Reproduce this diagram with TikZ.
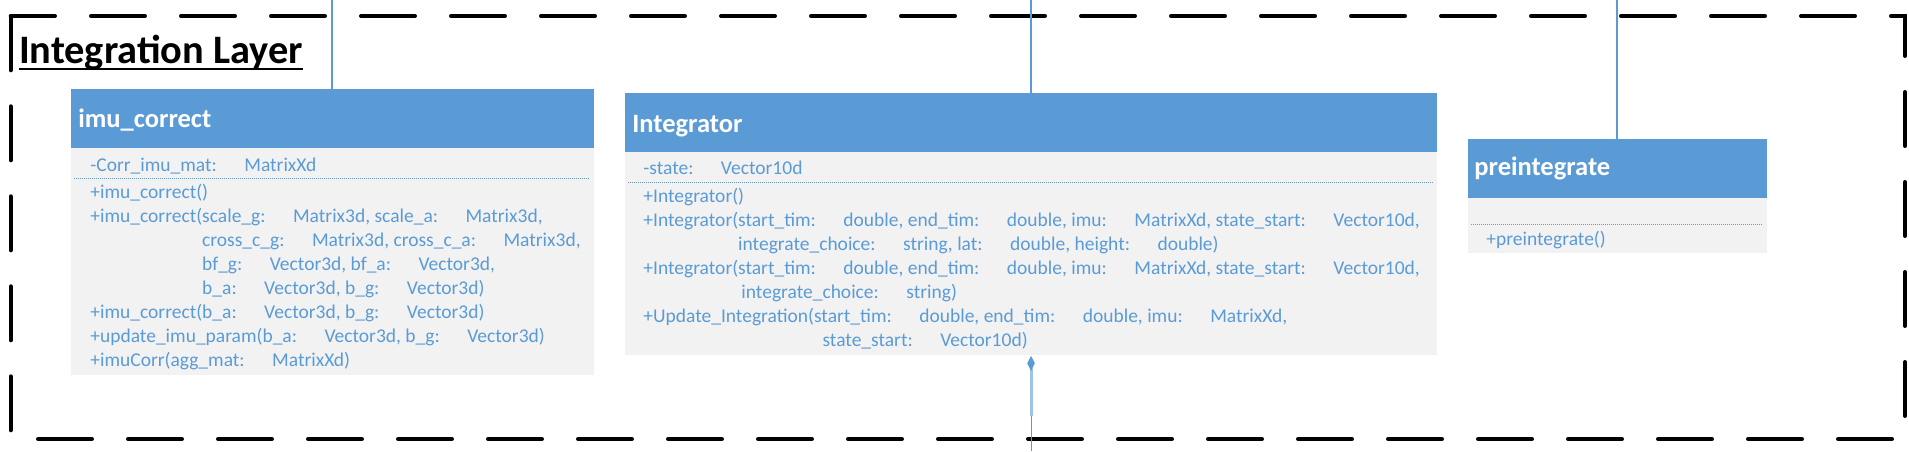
\documentclass[tikz,border=0pt]{standalone}
\usepackage{fontspec}
\setmainfont{Carlito}
\usetikzlibrary{arrows.meta}
\definecolor{umlblue}{HTML}{5B9BD5}
\definecolor{umlgray}{HTML}{F2F2F2}
\definecolor{umlpale}{HTML}{9DC3E6}
\tikzset{
  headbox/.style={fill=umlblue, inner sep=0pt, anchor=north west},
  bodybox/.style={fill=umlgray, inner sep=0pt, anchor=north west},
  headtext/.style={anchor=base west, inner sep=0pt, text=white, font=\fontsize{13.25pt}{15pt}\selectfont\bfseries},
  bodytext/.style={anchor=base west, inner sep=0pt, text=umlblue, align=left, font=\fontsize{9.75pt}{12pt}\selectfont},
  sepline/.style={umlblue, line width=0.5pt, dash pattern=on 0.5pt off 0.5pt},
  link/.style={umlblue, line width=0.8pt},
  frame/.style={line width=2pt, line cap=round, dash pattern=on 27pt off 18pt, dash phase=4.85pt},
}
\newcommand{\tb}{\hspace{13.75pt}}

\begin{document}
\begin{tikzpicture}[x=0.5pt, y=-0.5pt]
\useasboundingbox (0,0) rectangle (1909,451);

% layer frame and title
\draw[frame] (10.7,16) -- (1905,16) -- (1905,439) -- (10.7,439) -- cycle;
\node[anchor=base west, inner sep=0pt, font=\fontsize{20.2pt}{23pt}\selectfont\bfseries] (layerTitle) at (18.6,63) {Integration Layer};
\draw[line width=1pt] ([yshift=-3pt]layerTitle.base west) -- ([yshift=-3pt]layerTitle.base east);

% imu_correct
\node[headbox, minimum width=261.5pt, minimum height=29.5pt] (imuHead) at (71,89) {};
\node[bodybox, minimum width=261.5pt, minimum height=113.5pt] (imuBody) at (71,148) {};
\node[headtext] (imuName) at (78,127) {imu\_correct};
\draw[sepline] (74,178) -- (590,178);
\node[bodytext] (imuAttr) at (90,171) {-Corr\_imu\_mat:\tb MatrixXd};
% base of a multi-line node is its last line
\node[bodytext] (imuOps) at (90,366) {+imu\_correct()\\
  +imu\_correct(scale\_g:\tb Matrix3d, scale\_a:\tb Matrix3d,\\
  \hphantom{+imu\_correct(}cross\_c\_g:\tb Matrix3d, cross\_c\_a:\tb Matrix3d,\\
  \hphantom{+imu\_correct(}bf\_g:\tb Vector3d, bf\_a:\tb Vector3d,\\
  \hphantom{+imu\_correct(}b\_a:\tb Vector3d, b\_g:\tb Vector3d)\\
  +imu\_correct(b\_a:\tb Vector3d, b\_g:\tb Vector3d)\\
  +update\_imu\_param(b\_a:\tb Vector3d, b\_g:\tb Vector3d)\\
  +imuCorr(agg\_mat:\tb MatrixXd)};

% Integrator
\node[headbox, minimum width=406pt, minimum height=29.5pt] (intHead) at (625,93) {};
\node[bodybox, minimum width=406pt, minimum height=101.5pt] (intBody) at (625,152) {};
\node[headtext] (intName) at (632,132) {Integrator};
\draw[sepline] (628,182) -- (1433,182);
\node[bodytext] (intAttr) at (643,174) {-state:\tb Vector10d};
\node[bodytext] (intOps) at (643,346) {+Integrator()\\
  +Integrator(start\_tim:\tb double, end\_tim:\tb double, imu:\tb MatrixXd, state\_start:\tb Vector10d,\\
  \hphantom{+Integrator(}integrate\_choice:\tb string, lat:\tb double, height:\tb double)\\
  +Integrator(start\_tim:\tb double, end\_tim:\tb double, imu:\tb MatrixXd, state\_start:\tb Vector10d,\\
  \hphantom{+Integrator(\,}integrate\_choice:\tb string)\\
  +Update\_Integration(start\_tim:\tb double, end\_tim:\tb double, imu:\tb MatrixXd,\\
  \hphantom{+Update\_Integration(}\hspace*{4.25pt}state\_start:\tb Vector10d)};

% preintegrate
\node[headbox, minimum width=149.5pt, minimum height=29.5pt] (preHead) at (1468,139) {};
\node[bodybox, minimum width=149.5pt, minimum height=27.5pt] (preBody) at (1468,198) {};
\node[headtext] (preName) at (1474,175) {preintegrate};
\draw[sepline] (1471,224) -- (1763,224);
\node[bodytext] (preOps) at (1486,245) {+preintegrate()};

% links
\coordinate (imuTop) at (332,0);
\coordinate (intTop) at (1031,0);
\coordinate (preTop) at (1617,0);
\coordinate (intMid) at (1031,416);
\coordinate (intBot) at (1031,451);
\draw[link] (imuTop) -- (imuTop |- imuHead.north);
\draw[link, line width=0.6pt] (intTop) -- (intTop |- intHead.north);
\draw[link, line width=1.3pt] (preTop) -- (preTop |- preHead.north);
\draw[link, line width=0.5pt] (intBot) -- (intMid);
\draw[umlpale, line width=1.5pt, -{Diamond[length=7.5pt, width=3.8pt, color=umlblue, line width=0pt]}] (intMid) -- (intMid |- intBody.south);
\end{tikzpicture}
\end{document}
